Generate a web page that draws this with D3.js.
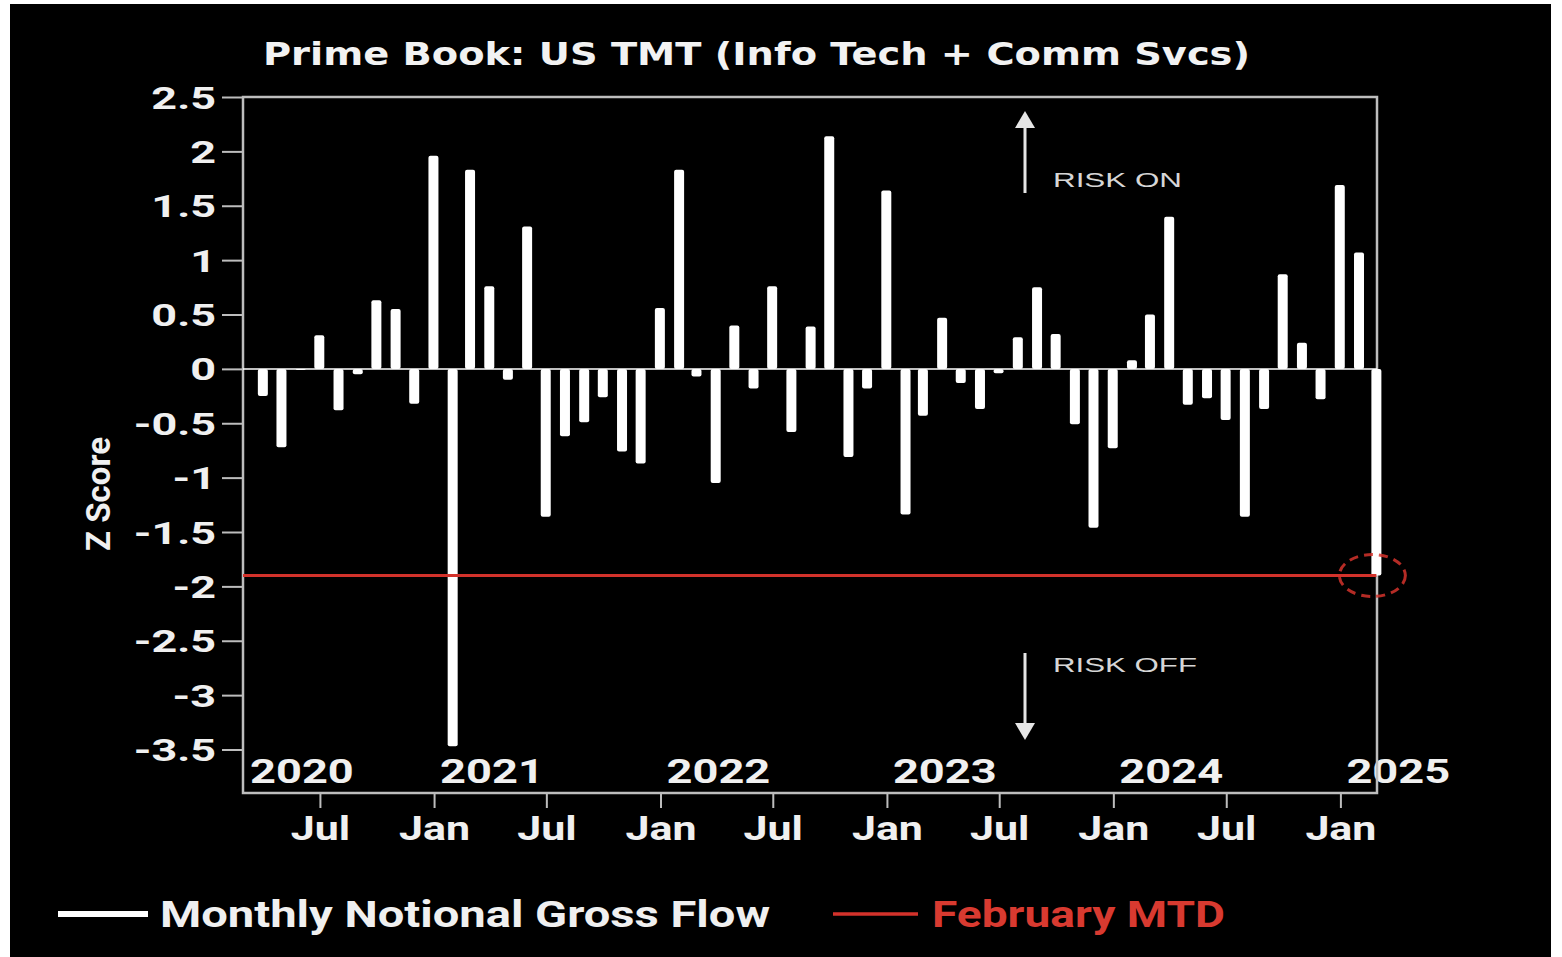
<!DOCTYPE html>
<html>
<head>
<meta charset="utf-8">
<script src="https://cdn.jsdelivr.net/npm/d3@7"></script>
<style>
  body { margin: 0; background: #fff; }
  svg { display: block; }
</style>
</head>
<body>
<div id="chart"></div>
<script>
const title = "Prime Book: US TMT (Info Tech + Comm Svcs)";
const firstMonth = "2020-03";
// monthly z-scores, Mar 2020 .. Feb 2025 (Feb 2025 = month to date)
const flow2020 = [-0.25, -0.72, 0, 0.31, -0.38, -0.05, 0.63, 0.55, -0.32, 1.96];
const flow2021 = [-3.47, 1.83, 0.76, -0.10, 1.31, -1.36, -0.62, -0.49, -0.26, -0.76, -0.87, 0.56];
const flow2022 = [1.83, -0.07, -1.05, 0.40, -0.18, 0.76, -0.58, 0.39, 2.14, -0.81, -0.18, 1.64];
const flow2023 = [-1.34, -0.43, 0.47, -0.13, -0.37, -0.04, 0.29, 0.75, 0.32, -0.51, -1.46, -0.73];
const flow2024 = [0.08, 0.50, 1.40, -0.33, -0.27, -0.47, -1.36, -0.37, 0.87, 0.24, -0.28, 1.69];
const flow2025 = [1.07, -1.90];
const februaryMTD = -1.9;

const yTicks = [2.5, 2, 1.5, 1, 0.5, 0, -0.5, -1, -1.5, -2, -2.5, -3, -3.5];
const monthTicks = ["2020-07-01", "2021-01-01", "2021-07-01", "2022-01-01", "2022-07-01",
  "2023-01-01", "2023-07-01", "2024-01-01", "2024-07-01", "2025-01-01"];
const yearLabels = ["2020", "2021", "2022", "2023", "2024", "2025"];
const legendLabels = ["Monthly Notional Gross Flow", "February MTD"];

const parseDay = d3.timeParse("%Y-%m-%d");
const parseMonth = d3.timeParse("%Y-%m");
const values = [].concat(flow2020, flow2021, flow2022, flow2023, flow2024, flow2025);
// each bar sits on the last day of its month
const data = values.map((v, i) => ({
  date: d3.timeDay.offset(d3.timeMonth.offset(parseMonth(firstMonth), i + 1), -1),
  value: v
}));

const width = 1562, height = 957;
const plot = { left: 243, right: 1377, top: 97, bottom: 793 };
const red = "#d3322b";
const frameColor = "#bdbdbd";

const svg = d3.select("#chart").append("svg")
  .attr("width", width)
  .attr("height", height);

svg.append("rect")
  .attr("x", 10).attr("y", 4)
  .attr("width", 1541).attr("height", height - 4)
  .attr("fill", "#000");

const x = d3.scaleTime()
  .domain([parseDay("2020-02-28"), parseDay("2025-03-01")])
  .range([plot.left, plot.right]);

const y = d3.scaleLinear()
  .domain([-3.9, 2.5])
  .range([plot.bottom, plot.top]);

// title
svg.append("text")
  .attr("x", 263).attr("y", 65)
  .attr("textLength", 987)
  .attr("lengthAdjust", "spacingAndGlyphs")
  .attr("fill", "#f2f2f2")
  .style("font-family", "'DejaVu Sans', Verdana, sans-serif")
  .style("font-weight", 700)
  .style("font-size", "32px")
  .text(title);

// y axis
const yAxis = svg.append("g")
  .attr("transform", `translate(${plot.left},0)`)
  .call(d3.axisLeft(y).tickValues(yTicks).tickSize(21).tickFormat(d => String(d)));
yAxis.select(".domain").remove();
yAxis.selectAll(".tick line").attr("stroke", frameColor).attr("stroke-width", 2);
yAxis.selectAll(".tick text")
  .attr("x", null).attr("dy", null)
  .attr("transform", "translate(-27,11) scale(1.45,1)")
  .attr("text-anchor", "end")
  .attr("fill", "#f0f0f0")
  .style("font-family", "Roboto, sans-serif")
  .style("font-weight", 700)
  .style("font-size", "31px");

// y label
svg.append("text")
  .attr("transform", "translate(110,494) rotate(-90)")
  .attr("text-anchor", "middle")
  .attr("fill", "#f0f0f0")
  .style("font-family", "Roboto, sans-serif")
  .style("font-weight", 700)
  .style("font-size", "33px")
  .text("Z Score");

// year labels inside the plot
svg.append("g")
  .selectAll("text")
  .data(yearLabels)
  .join("text")
  .attr("transform", d => {
    const x0 = Math.max(plot.left + 1, x(parseDay(d + "-01-01")));
    return `translate(${x0 + 6},783) scale(1.33,1)`;
  })
  .attr("fill", "#f0f0f0")
  .style("font-family", "Roboto, sans-serif")
  .style("font-weight", 700)
  .style("font-size", "34px")
  .text(d => d);

// frame
svg.append("rect")
  .attr("x", plot.left).attr("y", plot.top)
  .attr("width", plot.right - plot.left)
  .attr("height", plot.bottom - plot.top)
  .attr("fill", "none")
  .attr("stroke", frameColor).attr("stroke-width", 2.5);

// zero line
svg.append("line")
  .attr("x1", plot.left).attr("x2", plot.right)
  .attr("y1", y(0)).attr("y2", y(0))
  .attr("stroke", "#fff").attr("stroke-width", 1.5);

// bars
svg.append("g")
  .selectAll("rect")
  .data(data)
  .join("rect")
  .attr("x", d => x(d.date) - 5)
  .attr("width", 10)
  .attr("y", d => y(Math.max(0, d.value)))
  .attr("height", d => Math.max(1, Math.abs(y(d.value) - y(0))))
  .attr("rx", 2)
  .attr("fill", "#fff");

// February MTD level
const last = data[data.length - 1];
svg.append("line")
  .attr("x1", plot.left).attr("x2", x(last.date))
  .attr("y1", y(februaryMTD)).attr("y2", y(februaryMTD))
  .attr("stroke", red).attr("stroke-width", 3);

svg.append("ellipse")
  .attr("cx", x(last.date) - 4).attr("cy", y(februaryMTD))
  .attr("rx", 33).attr("ry", 21)
  .attr("fill", "none")
  .attr("stroke", red).attr("stroke-opacity", 0.85)
  .attr("stroke-width", 3)
  .attr("stroke-dasharray", "9,6");

// x axis (month ticks below frame)
const xAxis = svg.append("g")
  .attr("transform", `translate(0,${plot.bottom})`)
  .call(d3.axisBottom(x).tickValues(monthTicks.map(parseDay)).tickSize(15).tickFormat(d3.timeFormat("%b")));
xAxis.select(".domain").remove();
xAxis.selectAll(".tick line").attr("stroke", frameColor).attr("stroke-width", 2);
xAxis.selectAll(".tick text")
  .attr("y", null).attr("dy", null)
  .attr("transform", "translate(0,47) scale(1.3,1)")
  .attr("fill", "#f0f0f0")
  .style("font-family", "Roboto, sans-serif")
  .style("font-weight", 700)
  .style("font-size", "33px");

// risk arrows
const arrowX = 1025;
const arrows = svg.append("g").attr("stroke", "#e6e6e6").attr("fill", "#e6e6e6");
arrows.append("line").attr("x1", arrowX).attr("x2", arrowX).attr("y1", 193).attr("y2", 122).attr("stroke-width", 3);
arrows.append("path").attr("d", `M${arrowX},111 L${arrowX - 10},128 L${arrowX + 10},128 Z`).attr("stroke", "none");
arrows.append("line").attr("x1", arrowX).attr("x2", arrowX).attr("y1", 653).attr("y2", 726).attr("stroke-width", 3);
arrows.append("path").attr("d", `M${arrowX},740 L${arrowX - 10},723 L${arrowX + 10},723 Z`).attr("stroke", "none");

svg.append("g")
  .selectAll("text")
  .data([{ t: "RISK ON", y: 187, w: 129 }, { t: "RISK OFF", y: 672, w: 144 }])
  .join("text")
  .attr("x", 1053).attr("y", d => d.y)
  .attr("textLength", d => d.w)
  .attr("lengthAdjust", "spacingAndGlyphs")
  .attr("fill", "#d6d6d6")
  .style("font-family", "'Liberation Sans', Arial, sans-serif")
  .style("font-size", "21px")
  .text(d => d.t);

// legend
const legend = svg.append("g");
legend.append("line").attr("x1", 58).attr("x2", 148).attr("y1", 914).attr("y2", 914)
  .attr("stroke", "#fff").attr("stroke-width", 6);
legend.append("text")
  .attr("x", 160).attr("y", 927)
  .attr("textLength", 610).attr("lengthAdjust", "spacingAndGlyphs")
  .attr("fill", "#f0f0f0")
  .style("font-family", "Roboto, sans-serif").style("font-weight", 700).style("font-size", "36px")
  .text(legendLabels[0]);
legend.append("line").attr("x1", 833).attr("x2", 918).attr("y1", 914).attr("y2", 914)
  .attr("stroke", red).attr("stroke-width", 3.5);
legend.append("text")
  .attr("x", 932).attr("y", 927)
  .attr("textLength", 293).attr("lengthAdjust", "spacingAndGlyphs")
  .attr("fill", "#d83a30")
  .style("font-family", "Roboto, sans-serif").style("font-weight", 700).style("font-size", "36px")
  .text(legendLabels[1]);
</script>
</body>
</html>
